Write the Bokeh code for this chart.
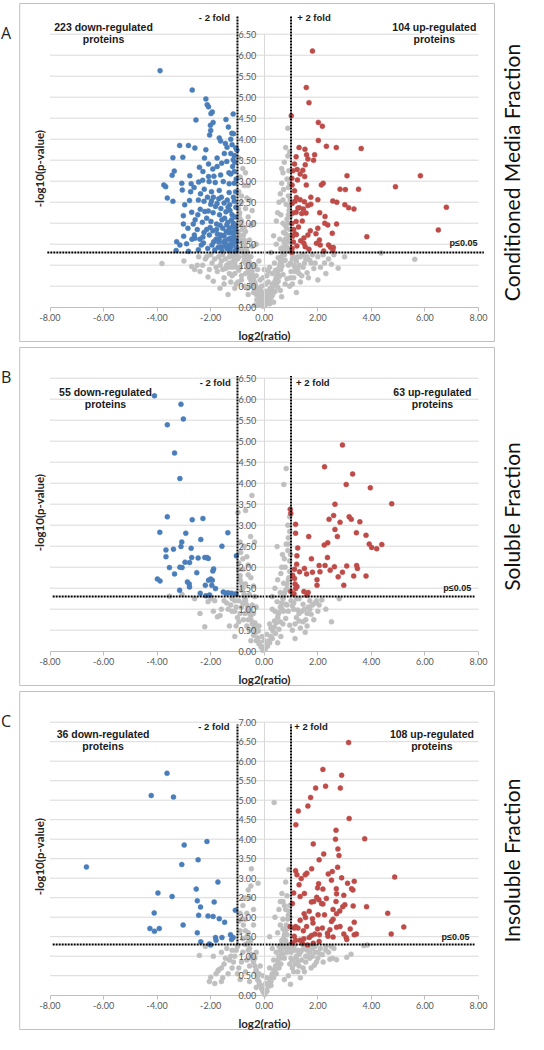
import math
from bokeh.plotting import figure
from bokeh.models import LinearAxis, FixedTicker, NumeralTickFormatter, Label
from bokeh.layouts import column
from bokeh.embed import file_html
from bokeh.resources import INLINE

# ---------------- data (log2 ratio, -log10 p) ----------------
A_DOWN = [(-3.89, 5.63), (-2.69, 5.17), (-2.18, 4.96), (-2.13, 4.82), (-2.08, 4.77), (-1.94, 4.65),
          (-1.99, 4.61), (-1.16, 4.60), (-2.55, 4.46), (-1.43, 4.47), (-1.91, 4.40), (-2.00, 4.21),
          (-2.01, 4.33), (-1.34, 4.29), (-2.04, 4.10), (-1.21, 4.14), (-1.15, 4.13), (-1.68, 4.03),
          (-1.63, 3.96), (-1.25, 4.00), (-3.16, 3.85), (-2.83, 3.85), (-2.59, 3.79), (-2.18, 3.75),
          (-1.39, 3.81), (-1.20, 3.87), (-1.06, 3.79), (-1.02, 3.74), (-3.41, 3.56), (-3.04, 3.57),
          (-2.23, 3.55), (-1.76, 3.55), (-1.49, 3.66), (-1.25, 3.66), (-1.12, 3.61), (-1.16, 3.51),
          (-1.59, 3.43), (-1.40, 3.47), (-3.36, 3.24), (-2.42, 3.33), (-2.29, 3.23), (-2.08, 3.41),
          (-1.92, 3.29), (-1.76, 3.35), (-3.44, 3.14), (-2.78, 3.13), (-2.08, 3.11), (-1.63, 3.15),
          (-1.25, 3.17), (-1.12, 3.23), (-3.75, 2.91), (-3.68, 2.87), (-3.08, 2.95), (-2.73, 2.94),
          (-2.45, 2.98), (-2.06, 2.99), (-1.83, 2.97), (-1.53, 2.99), (-1.31, 2.94), (-1.12, 2.95),
          (-3.62, 2.60), (-3.41, 2.52), (-3.06, 2.79), (-2.75, 2.75), (-2.24, 2.81), (-1.97, 2.75),
          (-1.68, 2.78), (-1.31, 2.73), (-1.07, 2.75), (-2.97, 2.44), (-2.79, 2.54), (-2.46, 2.55),
          (-2.25, 2.52), (-1.97, 2.53), (-1.76, 2.47), (-1.50, 2.48), (-1.29, 2.44), (-1.12, 2.52),
          (-3.02, 2.18), (-2.71, 2.26), (-2.39, 2.33), (-2.09, 2.29), (-1.91, 2.25), (-1.67, 2.20),
          (-1.43, 2.27), (-1.20, 2.20), (-3.02, 1.98), (-2.65, 1.98), (-2.31, 2.02), (-1.99, 2.04),
          (-1.78, 1.98), (-1.58, 2.08), (-1.36, 2.02), (-1.15, 2.00), (-3.01, 1.69), (-2.61, 1.72),
          (-2.29, 1.67), (-2.05, 1.72), (-1.75, 1.74), (-1.53, 1.70), (-1.32, 1.77), (-1.12, 1.79),
          (-3.27, 1.56), (-2.90, 1.51), (-2.59, 1.64), (-2.27, 1.53), (-1.89, 1.56), (-1.68, 1.63),
          (-1.46, 1.58), (-1.25, 1.64), (-1.06, 1.60), (-3.29, 1.35), (-2.83, 1.33), (-2.46, 1.37),
          (-2.11, 1.40), (-1.85, 1.36), (-1.61, 1.44), (-1.38, 1.39), (-1.16, 1.48), (-1.04, 1.40),
          (-1.10, 1.85), (-1.18, 1.92), (-1.30, 1.88), (-1.42, 1.80), (-1.55, 1.88), (-1.62, 1.72),
          (-1.70, 1.55), (-1.80, 1.62), (-1.92, 1.82), (-2.02, 1.90), (-2.15, 2.12), (-2.22, 2.28),
          (-1.48, 2.12), (-1.28, 2.30), (-1.06, 2.38), (-1.08, 2.15), (-1.14, 1.70), (-1.22, 1.52),
          (-1.34, 1.62), (-1.45, 1.45), (-1.58, 1.35), (-1.72, 1.42), (-1.95, 1.48), (-2.35, 1.48),
          (-2.50, 1.85), (-2.70, 1.62), (-2.85, 1.88), (-3.15, 1.48), (-1.38, 2.55), (-1.60, 2.62),
          (-1.82, 2.40), (-2.12, 2.62), (-2.38, 2.70), (-1.05, 3.05), (-1.18, 3.35), (-1.32, 3.20),
          (-1.88, 3.12), (-2.30, 3.02), (-2.62, 2.85), (-1.45, 3.90), (-1.10, 3.45), (-1.62, 2.35),
          (-2.00, 2.45), (-2.48, 2.20), (-1.26, 1.42), (-1.10, 1.34), (-1.52, 1.55), (-1.78, 1.85),
          (-2.25, 1.78), (-2.58, 2.08), (-1.05, 1.55), (-1.17, 1.62), (-1.24, 1.78), (-1.36, 1.48),
          (-1.08, 1.96), (-1.22, 2.08), (-1.40, 1.96), (-1.65, 1.95), (-1.35, 2.38), (-1.15, 2.62),
          (-1.70, 2.58), (-1.90, 2.62), (-2.15, 1.85), (-2.40, 1.62), (-1.30, 1.35), (-1.50, 1.70)]

A_UP = [(1.80, 6.10), (1.57, 5.23), (1.67, 4.87), (1.01, 4.56), (2.02, 4.40), (2.17, 4.31),
        (2.02, 3.97), (2.32, 3.83), (2.69, 3.80), (3.62, 3.78), (1.30, 3.80), (1.52, 3.76),
        (1.58, 3.63), (1.88, 3.63), (1.63, 3.53), (1.84, 3.50), (1.19, 3.58), (1.13, 3.41),
        (1.53, 3.39), (1.23, 3.28), (1.44, 3.26), (3.09, 3.13), (5.83, 3.13), (1.51, 3.11),
        (1.03, 3.07), (1.24, 3.03), (2.20, 2.95), (2.13, 2.91), (1.04, 2.91), (1.57, 2.91),
        (4.90, 2.87), (2.83, 2.81), (3.03, 2.80), (3.52, 2.81), (1.13, 2.77), (1.74, 2.62),
        (1.20, 2.61), (1.34, 2.56), (1.50, 2.51), (2.00, 2.56), (2.56, 2.53), (2.71, 2.50),
        (1.04, 2.47), (1.74, 2.45), (1.63, 2.42), (3.01, 2.44), (3.15, 2.37), (3.35, 2.34),
        (6.50, 1.84), (6.80, 2.38), (1.31, 2.37), (1.46, 2.34), (1.19, 2.26), (1.40, 2.23),
        (1.56, 2.24), (2.07, 2.25), (2.27, 2.16), (1.19, 2.04), (1.03, 1.99), (1.28, 1.91),
        (2.26, 2.00), (2.37, 1.96), (2.70, 1.98), (1.72, 1.82), (2.00, 1.88), (2.54, 1.76),
        (1.14, 1.75), (1.20, 1.73), (1.06, 1.69), (1.63, 1.72), (1.93, 1.75), (3.83, 1.68),
        (1.48, 1.65), (2.06, 1.60), (1.48, 1.52), (1.95, 1.52), (1.53, 1.44), (1.67, 1.38),
        (2.40, 1.48), (2.47, 1.43), (2.58, 1.42), (2.56, 1.35), (2.22, 1.34), (2.09, 1.48),
        (1.04, 1.40), (1.03, 1.31), (1.09, 1.55), (1.26, 2.36), (1.07, 2.24), (1.34, 3.17),
        (1.07, 3.25), (1.10, 1.85), (1.36, 1.58), (1.22, 1.46), (1.42, 2.05), (1.15, 2.52)]

A_NS = [(-0.05, 0.02), (0.03, 0.05), (0.10, 0.10), (-0.12, 0.08), (0.18, 0.15), (-0.20, 0.12),
        (0.05, 0.20), (-0.08, 0.25), (0.25, 0.22), (-0.28, 0.18), (0.12, 0.28), (-0.15, 0.30),
        (0.35, 0.12), (-0.35, 0.05), (-0.40, 0.35), (0.40, 0.38), (-0.25, 0.42), (0.22, 0.45),
        (-0.50, 0.50), (0.50, 0.48), (0.30, 0.55), (-0.35, 0.58), (0.60, 0.40), (-0.62, 0.45),
        (0.05, 0.35), (-0.10, 0.50), (0.15, 0.60), (-1.05, 0.55), (0.95, 0.50), (-1.35, 0.30),
        (1.35, 0.60), (-0.55, 0.70), (0.55, 0.72), (-0.70, 0.80), (0.70, 0.78), (-0.45, 0.85),
        (0.42, 0.88), (-0.85, 0.65), (0.85, 0.68), (-0.30, 0.75), (0.30, 0.80), (-1.20, 0.75),
        (1.15, 0.85), (-1.50, 0.70), (1.60, 0.82), (-2.10, 0.72), (2.00, 0.65), (-1.90, 0.62),
        (-0.95, 0.88), (0.98, 0.70), (-0.60, 1.00), (0.60, 1.05), (-0.75, 1.10), (0.78, 1.12),
        (-0.90, 0.95), (0.90, 1.00), (-0.50, 1.20), (0.52, 1.18), (-1.10, 1.05), (1.05, 1.15),
        (-1.30, 1.20), (1.30, 1.00), (-1.60, 1.10), (1.70, 1.12), (-1.80, 0.95), (2.00, 1.20),
        (-2.20, 1.15), (2.25, 1.05), (-2.50, 1.00), (2.51, 1.02), (-2.71, 0.97), (2.76, 0.93),
        (-3.82, 1.04), (5.62, 1.14), (-2.00, 1.25), (1.85, 0.92), (-0.35, 1.00), (0.38, 1.05),
        (-3.00, 1.10), (3.00, 1.20), (-1.45, 0.92), (1.45, 1.25), (-0.65, 1.35), (0.62, 1.40),
        (-0.80, 1.50), (0.80, 1.45), (-0.55, 1.60), (0.58, 1.62), (-0.90, 1.70), (0.90, 1.65),
        (-0.70, 1.80), (0.72, 1.78), (-0.45, 1.45), (0.45, 1.50), (-0.95, 1.40), (0.95, 1.35),
        (-0.75, 1.90), (0.78, 1.95), (-0.85, 2.05), (0.85, 2.10), (-0.60, 2.15), (0.62, 2.20),
        (-0.92, 2.25), (0.93, 2.30), (-0.70, 2.35), (0.70, 2.00), (-0.50, 1.95), (0.50, 2.25),
        (-0.85, 2.50), (0.82, 2.45), (-0.65, 2.60), (0.90, 2.65), (-0.95, 2.75), (0.72, 2.80),
        (-0.75, 2.90), (0.95, 2.95), (-0.55, 2.55), (0.60, 2.70), (-0.90, 3.10), (0.85, 3.05),
        (-0.80, 3.30), (0.92, 3.25), (0.75, 3.45), (-0.95, 3.55), (0.88, 3.60), (0.95, 3.70),
        (-0.70, 3.20), (0.88, 4.26), (0.65, 3.30), (4.36, 1.29), (-0.25, 0.90), (0.20, 0.95),
        (-0.15, 0.65), (0.10, 0.75), (-1.65, 0.45), (1.20, 0.35), (-2.40, 0.85), (2.30, 0.80),
        (-0.10, 0.15), (-0.15, 0.20), (-0.20, 0.28), (-0.22, 0.35), (-0.27, 0.40), (-0.30, 0.48),
        (-0.33, 0.52), (-0.38, 0.60), (-0.40, 0.66), (-0.43, 0.72), (-0.47, 0.78), (-0.50, 0.90),
        (-0.52, 0.95), (-0.55, 1.05), (-0.58, 1.10), (-0.62, 1.18), (-0.66, 1.25), (-0.68, 1.40),
        (-0.72, 1.50), (-0.75, 1.60), (-0.78, 1.72), (-0.82, 1.85), (-0.86, 1.95), (-0.90, 2.10),
        (-0.93, 2.20), (-0.96, 2.35), (-0.60, 0.85), (-0.65, 0.95), (-0.70, 1.05), (-0.75, 1.20),
        (-0.80, 1.30), (-0.85, 1.38), (-0.88, 1.55), (-0.92, 1.62), (-0.97, 1.80), (-0.45, 0.60),
        (-0.50, 0.65), (-0.55, 0.80), (-0.30, 0.30), (-0.35, 0.42), (0.12, 0.18), (0.16, 0.22),
        (0.22, 0.30), (0.25, 0.38), (0.28, 0.42), (0.32, 0.50), (0.36, 0.55), (0.40, 0.62),
        (0.44, 0.70), (0.48, 0.76), (0.50, 0.85), (0.54, 0.92), (0.58, 1.00), (0.60, 1.12),
        (0.65, 1.20), (0.68, 1.30), (0.70, 1.42), (0.74, 1.55), (0.78, 1.62), (0.80, 1.75),
        (0.84, 1.88), (0.88, 2.00), (0.90, 2.20), (0.94, 2.40), (0.97, 2.55), (0.62, 0.90),
        (0.66, 0.98), (0.72, 1.10), (0.76, 1.25), (0.82, 1.35), (0.86, 1.42), (0.90, 1.55),
        (0.93, 1.70), (0.96, 1.85), (0.46, 0.58), (0.52, 0.62), (0.56, 0.75), (0.30, 0.28),
        (0.35, 0.35), (0.98, 2.15), (-1.10, 0.80), (-1.20, 0.95), (-1.30, 1.05), (-1.15, 1.20),
        (-1.40, 1.00), (-1.55, 0.90), (-1.70, 1.20), (-1.25, 0.60), (-1.00, 1.15), (-1.05, 0.95),
        (1.10, 1.00), (1.20, 1.10), (1.35, 1.20), (1.50, 1.05), (1.25, 0.90), (1.40, 0.75),
        (1.60, 1.20), (1.75, 1.05), (1.10, 0.70), (1.05, 1.25), (-0.20, 0.05), (0.20, 0.08),
        (0.00, 0.12), (-0.05, 0.32), (0.08, 0.38), (-1.05, 1.28), (-1.15, 1.10), (-1.25, 1.25),
        (-1.35, 0.95), (-1.45, 1.15), (-1.55, 1.25), (-1.65, 1.00), (-1.75, 0.85), (-1.85, 1.15),
        (-1.95, 1.05), (-2.05, 0.90), (-2.15, 1.20), (-2.30, 1.00), (-2.45, 1.20), (-2.60, 0.90),
        (-1.10, 0.45), (-1.30, 0.80), (-1.50, 0.55), (-0.98, 0.60), (-0.95, 1.20), (1.05, 0.55),
        (1.15, 0.95), (1.25, 1.20), (1.30, 0.80), (1.45, 0.95), (1.55, 1.15), (1.65, 0.70),
        (1.80, 1.25), (1.90, 1.05), (2.10, 0.95), (2.20, 1.25), (2.40, 1.15), (2.60, 1.25),
        (1.00, 0.85), (1.12, 1.18), (0.98, 1.05), (0.15, 0.85), (-0.20, 1.10), (0.25, 1.30),
        (-0.30, 1.50), (0.35, 1.70), (-0.40, 2.00), (0.45, 2.05), (-0.45, 2.30), (0.55, 2.50),
        (-0.60, 2.90), (0.65, 2.95), (0.70, 3.20), (0.80, 3.80), (-0.85, 2.65), (0.90, 2.85),
        (0.70, 2.55), (-0.05, 0.70), (0.00, 0.90), (0.05, 0.55), (-0.12, 0.40), (0.18, 0.35),
        (-0.60, 0.30), (0.65, 0.25), (-0.75, 0.50), (0.78, 0.55), (-0.85, 0.75)]

B_DOWN = [(-4.10, 6.08), (-3.11, 5.88), (-3.02, 5.53), (-3.62, 5.39), (-3.35, 4.72), (-3.15, 4.11),
          (-3.62, 3.20), (-2.69, 3.13), (-2.29, 3.16), (-3.90, 2.83), (-2.93, 2.81), (-1.36, 2.82),
          (-2.37, 2.66), (-3.08, 2.60), (-3.11, 2.49), (-3.39, 2.43), (-3.67, 2.41), (-2.73, 2.45),
          (-1.58, 2.50), (-1.04, 2.27), (-3.67, 2.25), (-2.71, 2.23), (-2.47, 2.22), (-2.22, 2.23),
          (-2.14, 2.23), (-2.09, 2.21), (-2.96, 2.12), (-2.79, 2.11), (-3.54, 1.99), (-3.15, 2.00),
          (-3.07, 1.99), (-1.89, 1.96), (-1.92, 1.91), (-3.35, 1.84), (-2.52, 1.87), (-3.99, 1.72),
          (-3.89, 1.67), (-2.87, 1.65), (-2.80, 1.60), (-2.79, 1.53), (-2.08, 1.69), (-2.00, 1.72),
          (-1.94, 1.69), (-2.20, 1.57), (-1.96, 1.57), (-1.82, 1.49), (-3.16, 1.45), (-1.53, 1.41),
          (-1.43, 1.38), (-1.35, 1.39), (-1.22, 1.38), (-2.18, 1.32), (-2.04, 1.34), (-2.39, 1.38),
          (-1.06, 1.37)]

B_UP = [(2.92, 4.91), (2.25, 4.39), (3.30, 4.22), (3.06, 3.97), (3.96, 3.89), (4.76, 3.51),
        (2.64, 3.50), (0.97, 3.38), (0.99, 3.28), (2.59, 3.23), (2.42, 3.14), (3.17, 3.20),
        (3.25, 3.14), (2.83, 3.07), (3.57, 3.08), (1.17, 3.02), (2.64, 2.90), (3.44, 2.82),
        (1.66, 2.73), (2.73, 2.73), (3.80, 2.76), (1.17, 2.81), (2.37, 2.58), (2.24, 2.53),
        (3.92, 2.55), (4.01, 2.47), (4.20, 2.44), (4.39, 2.54), (1.25, 2.46), (1.22, 2.27),
        (2.36, 2.23), (1.76, 2.20), (1.21, 2.07), (2.05, 2.04), (2.27, 2.04), (3.08, 2.03),
        (3.45, 2.04), (3.48, 1.97), (2.62, 2.01), (2.46, 1.93), (1.13, 1.95), (1.50, 1.97),
        (1.32, 1.89), (1.58, 1.84), (1.80, 1.88), (2.08, 1.89), (2.92, 1.88), (3.34, 1.79),
        (3.80, 1.79), (2.76, 1.77), (1.06, 1.81), (1.13, 1.73), (1.97, 1.70), (1.97, 1.57),
        (2.97, 1.57), (1.15, 1.60), (1.17, 1.49), (1.48, 1.42), (1.64, 1.40), (1.59, 1.33),
        (0.99, 1.42), (1.11, 1.37), (1.22, 1.54)]

B_NS = [(-0.05, 0.02), (0.04, 0.06), (-0.12, 0.10), (0.12, 0.12), (-0.20, 0.18), (0.20, 0.20),
        (0.00, 0.25), (-0.30, 0.25), (0.30, 0.30), (-0.08, 0.35), (0.10, 0.40), (-0.40, 0.38),
        (0.42, 0.42), (-0.22, 0.48), (0.25, 0.55), (-0.55, 0.50), (0.55, 0.52), (0.62, 0.35),
        (-0.65, 0.60), (0.70, 0.65), (-0.35, 0.68), (0.38, 0.72), (-0.78, 0.75), (0.80, 0.78),
        (-0.50, 0.85), (0.52, 0.88), (-0.90, 0.90), (0.90, 0.95), (-0.62, 1.00), (0.65, 1.02),
        (-1.05, 1.05), (1.05, 1.08), (-0.80, 1.15), (0.80, 1.12), (-1.20, 0.95), (1.25, 0.98),
        (-0.45, 1.10), (0.48, 1.18), (-1.40, 1.15), (1.45, 1.12), (-1.60, 1.00), (1.65, 1.05),
        (-1.85, 1.20), (1.90, 1.15), (-2.22, 0.58), (2.51, 0.70), (1.53, 0.45), (-0.95, 0.70),
        (0.95, 0.62), (-1.30, 0.60), (1.30, 0.72), (-1.75, 0.82), (1.75, 0.88), (-2.10, 1.18),
        (2.15, 1.22), (-0.72, 1.25), (0.70, 1.28), (-3.54, 1.31), (-3.07, 1.35), (-2.60, 1.25),
        (-0.55, 1.35), (0.60, 1.40), (-0.85, 1.45), (0.85, 1.50), (-0.70, 1.60), (0.72, 1.62),
        (-0.90, 1.70), (0.92, 1.75), (-0.60, 1.82), (0.62, 1.85), (-0.80, 1.95), (0.78, 2.00),
        (-0.95, 2.10), (0.95, 2.15), (-0.65, 2.25), (0.68, 2.30), (0.88, 2.40), (-0.88, 2.35),
        (-0.51, 2.73), (-0.36, 2.60), (0.48, 2.49), (0.82, 2.55), (-0.75, 2.50), (0.90, 2.70),
        (-0.98, 3.30), (-0.46, 3.71), (0.73, 3.97), (0.82, 4.35), (0.95, 3.20), (-0.70, 3.35),
        (0.40, 1.50), (-0.40, 1.55), (0.30, 1.00), (-0.30, 1.05), (2.80, 1.25), (2.30, 1.00),
        (-2.40, 0.90), (1.15, 0.30), (-1.10, 0.35), (-0.10, 0.12), (-0.18, 0.22), (-0.25, 0.32),
        (-0.32, 0.45), (-0.38, 0.55), (-0.45, 0.65), (-0.50, 0.75), (-0.55, 0.90), (-0.60, 0.98),
        (-0.65, 1.10), (-0.70, 1.20), (-0.75, 1.35), (-0.80, 1.50), (-0.85, 1.62), (-0.90, 1.80),
        (-0.95, 1.95), (-0.72, 0.90), (-0.85, 1.05), (-1.10, 1.20), (-1.25, 1.10), (-0.40, 0.90),
        (-0.30, 0.60), (0.10, 0.15), (0.18, 0.25), (0.25, 0.35), (0.32, 0.48), (0.38, 0.58),
        (0.45, 0.68), (0.50, 0.80), (0.55, 0.92), (0.60, 1.05), (0.65, 1.15), (0.70, 1.25),
        (0.75, 1.38), (0.80, 1.45), (0.85, 1.60), (0.90, 1.70), (0.95, 1.90), (0.72, 0.95),
        (0.85, 1.10), (1.10, 1.15), (1.30, 1.25), (1.55, 0.75), (1.70, 1.20), (2.00, 0.95),
        (0.40, 0.95), (0.98, 2.30), (1.05, 0.50), (1.15, 0.65), (1.20, 0.80), (1.30, 0.90),
        (1.40, 0.95), (1.50, 1.00), (1.60, 0.90), (1.70, 1.00), (1.80, 1.10), (1.95, 1.20),
        (2.05, 1.10), (1.35, 0.55), (1.45, 0.70), (1.60, 0.60), (1.85, 0.75), (1.00, 1.20),
        (1.10, 1.00), (1.20, 1.25), (-1.00, 0.80), (-1.10, 0.95), (-1.20, 1.25), (-1.35, 1.00),
        (-1.50, 1.20), (-1.65, 0.85), (-1.90, 0.95), (-2.00, 1.25), (-0.95, 1.20), (-1.05, 0.60),
        (0.50, 0.20), (-0.50, 0.25), (0.20, 0.65), (-0.20, 0.60), (0.60, 0.70), (-0.60, 0.75),
        (0.30, 1.30), (-0.35, 1.30), (0.50, 1.70), (-0.50, 1.75), (0.65, 2.00), (-0.60, 2.05),
        (0.75, 2.20), (-0.80, 2.20), (0.90, 2.55), (0.88, 3.00), (-0.90, 2.60), (0.95, 2.85)]

C_DOWN = [(-3.63, 5.69), (-4.22, 5.12), (-3.39, 5.08), (-2.99, 3.85), (-2.14, 3.94), (-2.47, 3.47),
          (-3.08, 3.35), (-6.64, 3.29), (-1.73, 2.90), (-2.54, 2.72), (-3.97, 2.62), (-3.44, 2.53),
          (-2.50, 2.42), (-1.87, 2.39), (-2.38, 2.26), (-1.08, 2.18), (-4.11, 2.11), (-2.45, 2.05),
          (-2.10, 2.03), (-1.91, 2.02), (-1.68, 1.96), (-1.48, 1.87), (-3.03, 1.80), (-4.27, 1.71),
          (-3.92, 1.71), (-4.10, 1.64), (-2.50, 1.60), (-1.26, 1.55), (-1.22, 1.43), (-1.82, 1.48),
          (-1.58, 1.48), (-1.80, 1.41), (-2.37, 1.37), (-2.05, 1.31), (-2.00, 1.29), (-1.16, 1.48)]

C_UP = [(3.15, 6.48), (2.19, 5.79), (2.89, 5.64), (1.92, 5.31), (2.29, 5.36), (2.84, 5.31),
        (1.73, 5.07), (1.27, 4.72), (1.63, 4.85), (3.17, 4.53), (1.18, 4.37), (2.68, 4.23),
        (2.66, 4.00), (3.75, 4.01), (1.83, 3.88), (2.75, 3.75), (2.22, 3.62), (2.79, 3.58),
        (2.05, 3.47), (1.17, 3.19), (2.54, 3.17), (2.39, 3.11), (1.77, 3.24), (2.74, 3.28),
        (1.59, 3.13), (1.22, 3.09), (1.53, 3.09), (1.38, 2.99), (2.89, 3.01), (4.87, 3.03),
        (2.03, 2.86), (3.36, 2.92), (3.11, 2.87), (1.30, 2.83), (2.69, 2.73), (3.26, 2.73),
        (3.31, 2.70), (1.99, 2.75), (2.19, 2.72), (2.70, 2.60), (1.50, 2.61), (1.34, 2.53),
        (1.96, 2.51), (2.04, 2.45), (1.76, 2.39), (1.85, 2.40), (2.14, 2.35), (2.19, 2.34),
        (2.68, 2.40), (2.97, 2.56), (3.01, 2.32), (2.93, 2.27), (3.32, 2.29), (3.82, 2.27),
        (2.82, 2.16), (2.57, 2.20), (2.70, 2.09), (4.61, 2.10), (2.01, 2.06), (1.49, 2.09),
        (1.54, 1.99), (1.80, 1.96), (0.97, 1.76), (1.34, 1.92), (2.57, 1.95), (3.36, 1.87),
        (1.82, 1.85), (1.12, 1.72), (1.26, 1.72), (1.46, 1.65), (1.58, 1.76), (1.99, 1.70),
        (2.45, 1.68), (2.51, 1.89), (2.70, 1.74), (5.21, 1.75), (4.74, 1.57), (3.44, 1.57),
        (3.36, 1.55), (2.97, 1.57), (2.36, 1.59), (2.38, 1.51), (2.57, 1.49), (3.06, 1.48),
        (3.08, 1.43), (1.89, 1.57), (2.06, 1.55), (1.68, 1.48), (1.48, 1.45), (1.12, 1.51),
        (1.17, 1.41), (1.34, 1.41), (1.04, 1.34), (1.43, 1.33), (1.62, 1.29), (1.83, 1.33),
        (2.05, 1.38), (1.76, 1.53), (2.17, 1.72), (2.25, 2.06), (1.68, 2.15), (2.83, 1.76),
        (3.21, 1.70), (2.32, 2.48), (2.51, 2.95), (1.17, 1.76), (1.05, 2.35), (1.10, 2.62)]

C_NS = [(0.02, 0.02), (-0.04, 0.08), (0.08, 0.12), (-0.10, 0.18), (0.15, 0.22), (-0.18, 0.28),
        (0.05, 0.30), (0.25, 0.35), (-0.25, 0.40), (0.10, 0.45), (-0.05, 0.50), (0.30, 0.55),
        (-0.32, 0.60), (0.40, 0.62), (0.20, 0.70), (-0.15, 0.75), (0.50, 0.80), (-0.40, 0.85),
        (0.35, 0.90), (0.60, 0.95), (-0.50, 1.00), (0.70, 1.05), (0.45, 1.10), (-0.60, 1.15),
        (0.80, 1.20), (0.55, 1.25), (-0.70, 1.30), (0.90, 1.30), (0.65, 1.40), (-0.80, 1.45),
        (0.75, 1.55), (0.50, 1.60), (-0.90, 1.65), (0.85, 1.70), (0.60, 1.80), (-0.95, 1.90),
        (0.70, 1.95), (0.90, 2.05), (-0.65, 2.10), (0.55, 2.20), (0.75, 2.30), (0.60, 2.40),
        (-0.75, 2.50), (-0.48, 3.24), (-0.23, 2.87), (0.92, 3.22), (0.66, 2.61), (0.37, 4.94),
        (0.85, 2.55), (-0.60, 2.70), (0.80, 2.90), (1.00, 1.10), (1.20, 1.00), (1.40, 0.90),
        (1.60, 1.15), (1.30, 0.75), (1.10, 0.60), (0.98, 0.28), (0.90, 0.50), (1.50, 0.60),
        (1.80, 1.20), (2.00, 1.10), (2.17, 1.04), (1.87, 0.77), (2.45, 0.92), (2.70, 0.91),
        (3.08, 0.97), (3.24, 1.05), (3.72, 1.27), (3.85, 1.29), (2.30, 1.25), (1.70, 0.95),
        (-1.10, 1.00), (-1.30, 0.90), (-1.50, 0.80), (-1.70, 0.65), (-1.73, 0.62), (-2.00, 0.46),
        (-2.42, 1.02), (-1.20, 0.70), (-0.90, 0.40), (-1.00, 0.55), (-1.40, 1.20), (-1.60, 1.10),
        (-1.90, 1.00), (-0.85, 0.85), (-0.70, 0.60), (-0.55, 0.35), (-0.30, 0.20), (0.75, 0.40),
        (0.95, 0.80), (1.10, 1.25), (0.30, 1.20), (-0.30, 1.10), (0.20, 1.50), (0.40, 2.00),
        (-0.40, 1.80), (1.25, 1.15), (1.45, 1.28), (2.60, 1.20), (-2.20, 1.25), (-1.85, 0.30),
        (-0.08, 0.15), (-0.12, 0.25), (-0.20, 0.35), (-0.25, 0.50), (-0.30, 0.65), (-0.35, 0.75),
        (-0.42, 0.90), (-0.48, 1.05), (-0.55, 1.20), (-0.60, 1.35), (-0.65, 1.50), (-0.70, 1.65),
        (-0.78, 1.80), (-0.85, 1.95), (-0.90, 2.10), (-0.55, 0.75), (-0.65, 0.90), (-0.80, 1.10),
        (-1.00, 1.25), (-1.20, 1.15), (-1.35, 0.55), (-1.55, 0.45), (-1.60, 0.35), (0.10, 0.10),
        (0.15, 0.30), (0.22, 0.40), (0.28, 0.50), (0.35, 0.65), (0.42, 0.75), (0.50, 0.90),
        (0.55, 1.00), (0.60, 1.15), (0.65, 1.30), (0.72, 1.45), (0.78, 1.60), (0.82, 1.80),
        (0.88, 1.95), (0.92, 2.15), (0.95, 2.30), (0.62, 0.80), (0.75, 0.95), (0.85, 1.10),
        (0.95, 1.20), (1.15, 1.15), (1.35, 1.10), (1.55, 1.00), (1.70, 1.25), (1.90, 1.10),
        (2.10, 1.20), (2.40, 1.10), (1.25, 0.85), (1.45, 0.70), (1.05, 0.90), (1.05, 0.70),
        (1.15, 0.80), (1.20, 0.95), (1.30, 1.05), (1.40, 1.15), (1.50, 1.20), (1.60, 1.00),
        (1.70, 1.10), (1.80, 1.00), (1.90, 1.25), (2.00, 0.95), (2.10, 1.05), (2.20, 0.85),
        (2.30, 1.15), (2.50, 1.25), (2.55, 0.95), (1.25, 0.60), (1.35, 0.45), (1.55, 0.85),
        (1.75, 0.70), (1.95, 0.85), (1.00, 0.95), (1.05, 1.20), (1.15, 1.30), (-1.05, 1.15),
        (-1.15, 0.85), (-1.25, 1.00), (-1.45, 0.95), (-1.60, 0.70), (-1.80, 0.55), (-2.05, 0.35),
        (-0.95, 0.70), (0.25, 0.25), (-0.20, 0.55), (0.35, 0.45), (-0.35, 0.95), (0.45, 0.55),
        (0.55, 0.70), (0.65, 1.10), (0.70, 1.25), (0.80, 1.40), (0.85, 1.55), (0.90, 1.75),
        (0.70, 1.70), (0.95, 2.00), (0.80, 2.20), (0.70, 2.40), (-0.50, 1.40), (-0.60, 1.60),
        (-0.70, 1.95), (-0.80, 2.30), (-0.55, 2.50), (-0.50, 2.80), (-0.40, 2.20)]

X_TICKS = [-8, -6, -4, -2, 0, 2, 4, 6, 8]
Y_TICKS_AB = [0.0, 0.5, 1.0, 1.5, 2.0, 2.5, 3.0, 3.5, 4.0, 4.5, 5.0, 5.5, 6.0, 6.5]
Y_TICKS_C = [0.0, 0.5, 1.0, 1.5, 2.0, 2.5, 3.0, 3.5, 4.0, 4.5, 5.0, 5.5, 6.0, 6.5, 7.0]
P_THRESH = 1.30
FOLD = 1.0
PANEL_LETTERS = ["A", "B", "C"]
FRACTION_TITLES = ["Conditioned Media Fraction", "Soluble Fraction", "Insoluble Fraction"]
DOWN_COUNTS = [223, 55, 36]
UP_COUNTS = [104, 63, 108]

# ---------------- layout / style ----------------
BLUE = "#4a7ebb"
RED = "#be4b48"
GREY = "#bfbfbf"
GRID = "#d9d9d9"
TICK_FONT = "Lato"
BOLD_FONT = "Liberation Sans"

W, H = 528, 344
# pixel layout inside each figure (figure-local px)
PX_XM8, PX_XP8 = 49.5, 478.0        # where x=-8 and x=+8 sit
PX_YTOP, PX_Y0 = 33.7, 306.7        # where top tick and y=0 sit
BOX_L, BOX_R, BOX_T, BOX_B = 19.2, 494.0, 3.0, 341.0
TITLE_PX = 511.0                    # centre of the rotated side title
X_PPU = (PX_XP8 - PX_XM8) / 16.0
X_MIN = -8 - PX_XM8 / X_PPU
X_MAX = X_MIN + W / X_PPU

PANEL_TEXT = [
    dict(down_x=-6.00, up_x=6.35, cnt_y=(6.66, 6.39), fold_y=6.89, fold_l=-1.28, fold_r=1.23,
         vtop=6.92, p_x=7.96, p_y=1.52, h_x=(-8.10, 8.20)),
    dict(down_x=-5.93, up_x=6.28, cnt_y=(6.18, 5.89), fold_y=6.40, fold_l=-1.25, fold_r=1.19,
         vtop=6.55, p_x=7.73, p_y=1.51, h_x=(-7.90, 7.85)),
    dict(down_x=-6.02, up_x=6.26, cnt_y=(6.69, 6.38), fold_y=6.89, fold_l=-1.30, fold_r=1.12,
         vtop=6.94, p_x=7.66, p_y=1.50, h_x=(-7.90, 7.85)),
]


def make_panel(i, yticks, ns, down, up):
    t = PANEL_TEXT[i]
    ytop = yticks[-1]
    y_ppu = (PX_Y0 - PX_YTOP) / ytop
    y_max = ytop + PX_YTOP / y_ppu
    y_min = y_max - H / y_ppu

    def dx(px):
        return X_MIN + px / X_PPU

    def dy(py):
        return y_max - py / y_ppu

    p = figure(width=W, height=H, x_range=(X_MIN, X_MAX), y_range=(y_min, y_max),
               output_backend="svg", toolbar_location=None,
               x_axis_location=None, y_axis_location=None,
               min_border=0)
    p.grid.visible = False
    p.outline_line_color = None

    # panel frame
    p.quad(left=[dx(BOX_L)], right=[dx(BOX_R)], bottom=[dy(BOX_B)], top=[dy(BOX_T)],
           fill_color=None, line_color="#c0c0c0", line_width=1)

    # gridlines
    gy = [v for v in yticks if v > 0]
    p.segment(x0=[-8] * len(gy), y0=gy, x1=[8] * len(gy), y1=gy,
              line_color=GRID, line_width=1)

    # axes crossing at zero, as in the original
    xaxis = LinearAxis(fixed_location=0, bounds=(-8, 8),
                       ticker=FixedTicker(ticks=X_TICKS),
                       formatter=NumeralTickFormatter(format="0.00"),
                       axis_label="log2(ratio)")
    xaxis.axis_line_color = GREY
    xaxis.major_tick_line_color = GREY
    xaxis.major_tick_out = 4
    xaxis.major_tick_in = 0
    xaxis.minor_tick_line_color = None
    xaxis.major_label_text_font = TICK_FONT
    xaxis.major_label_text_font_size = "9px"
    xaxis.major_label_text_color = "#595959"
    xaxis.major_label_standoff = 3
    xaxis.axis_label_text_font = TICK_FONT
    xaxis.axis_label_text_font_style = "bold"
    xaxis.axis_label_text_font_size = "11.5px"
    xaxis.axis_label_text_color = "#262626"
    xaxis.axis_label_standoff = 4
    p.add_layout(xaxis, "below")

    yaxis = LinearAxis(fixed_location=0, bounds=(0, ytop),
                       ticker=FixedTicker(ticks=yticks),
                       formatter=NumeralTickFormatter(format="0.00"))
    yaxis.axis_line_color = GRID
    yaxis.major_tick_line_color = None
    yaxis.major_tick_out = 0
    yaxis.major_tick_in = 0
    yaxis.minor_tick_line_color = None
    yaxis.major_label_text_font = TICK_FONT
    yaxis.major_label_text_font_size = "9px"
    yaxis.major_label_text_color = "#595959"
    yaxis.major_label_standoff = 8
    p.add_layout(yaxis, "left")

    # points
    for pts, col in ((ns, GREY), (down, BLUE), (up, RED)):
        xs = [a for a, b in pts]
        ys = [b for a, b in pts]
        p.scatter(xs, ys, size=5, fill_color=col, line_color=col, line_width=0.5)

    # threshold lines
    p.segment(x0=[t["h_x"][0], -FOLD, FOLD], y0=[P_THRESH, P_THRESH, P_THRESH],
              x1=[t["h_x"][1], -FOLD, FOLD], y1=[P_THRESH, t["vtop"], t["vtop"]],
              line_color="black", line_width=2, line_dash="2 1")

    def lab(x, y, text, size, align="center", baseline="middle", font=BOLD_FONT,
            style="bold", angle=0.0, color="#1a1a1a"):
        p.add_layout(Label(x=x, y=y, text=text, text_font=font, text_font_size=size,
                           text_font_style=style, text_align=align, text_baseline=baseline,
                           angle=angle, text_color=color))

    lab(t["down_x"], t["cnt_y"][0], f"{DOWN_COUNTS[i]} down-regulated", "10.5px")
    lab(t["down_x"], t["cnt_y"][1], "proteins", "10.5px")
    lab(t["up_x"], t["cnt_y"][0], f"{UP_COUNTS[i]} up-regulated", "10.5px")
    lab(t["up_x"], t["cnt_y"][1], "proteins", "10.5px")
    lab(t["fold_l"], t["fold_y"], "- 2 fold", "9.5px", align="right")
    lab(t["fold_r"], t["fold_y"], "+ 2 fold", "9.5px", align="left")
    lab(t["p_x"], t["p_y"], "p\u22640.05", "9px", align="right")

    # y axis title
    lab(dx(38.5), ytop / 2.0 + 0.05, "-log10(p-value)", "11.5px", font=TICK_FONT,
        angle=math.pi / 2, color="#262626")
    # panel letter
    lab(dx(0.5), dy(21.0), PANEL_LETTERS[i], "16px", font="Open Sans",
        style="normal", align="left", baseline="top", color="#222222")
    # side title
    lab(dx(TITLE_PX), dy((BOX_T + BOX_B) / 2.0), FRACTION_TITLES[i], "21px", font="Lato",
        style="normal", angle=math.pi / 2, color="#111111")
    return p


pa = make_panel(0, Y_TICKS_AB, A_NS, A_DOWN, A_UP)
pb = make_panel(1, Y_TICKS_AB, B_NS, B_DOWN, B_UP)
pc = make_panel(2, Y_TICKS_C, C_NS, C_DOWN, C_UP)

layout = column(pa, pb, pc, spacing=0)
open("out.html", "w").write(file_html(layout, INLINE))
